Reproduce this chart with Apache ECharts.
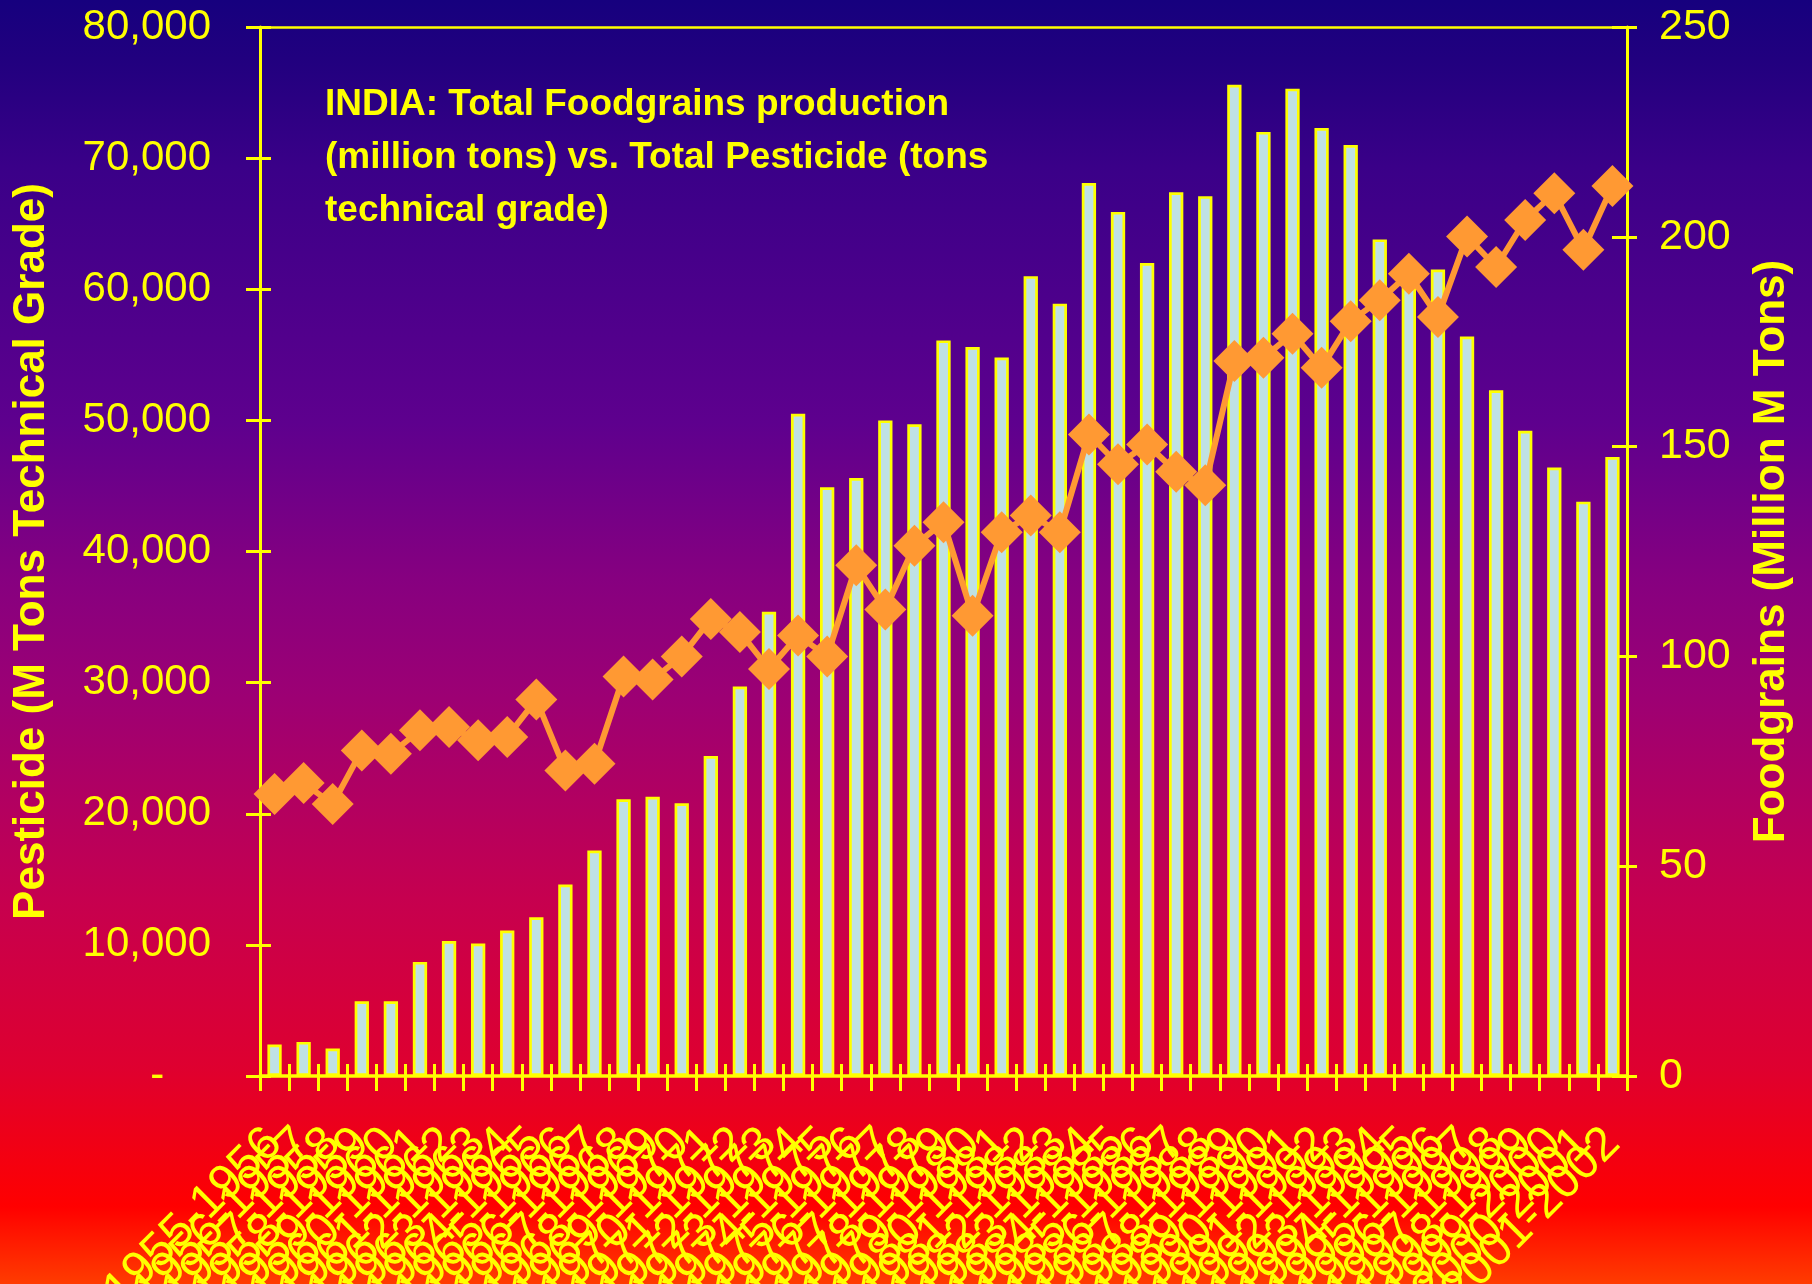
<!DOCTYPE html>
<html>
<head>
<meta charset="utf-8">
<script src="https://cdn.jsdelivr.net/npm/echarts@6/dist/echarts.min.js"></script>
<style>
html,body{margin:0;padding:0;width:1812px;height:1284px;overflow:hidden;}
#chart{width:1812px;height:1284px;}
</style>
</head>
<body>
<div id="chart"></div>
<script>
const categories = [
  '1955-1956','1956-1957','1957-1958','1958-1959','1959-1960','1960-1961','1961-1962','1962-1963',
  '1963-1964','1964-1965','1965-1966','1966-1967','1967-1968','1968-1969','1969-1970','1970-1971',
  '1971-1972','1972-1973','1973-1974','1974-1975','1975-1976','1976-1977','1977-1978','1978-1979',
  '1979-1980','1980-1981','1981-1982','1982-1983','1983-1984','1984-1985','1985-1986','1986-1987',
  '1987-1988','1988-1989','1989-1990','1990-1991','1991-1992','1992-1993','1993-1994','1994-1995',
  '1995-1996','1996-1997','1997-1998','1998-1999','1999-2000','2000-2001','2001-2002'
];
// Total pesticide consumption (tons technical grade) - left axis, bars
const pesticide = [
  2400, 2600, 2100, 5700, 5700, 8700, 10300, 10100, 11100, 12100,
  14600, 17200, 21100, 21300, 20800, 24400, 29700, 35400, 50500, 44900,
  45600, 50000, 49700, 56100, 55600, 54800, 61000, 58900, 68100, 65900,
  62000, 67400, 67100, 75600, 72000, 75300, 72300, 71000, 63800, 61500,
  61500, 56400, 52300, 49200, 46400, 43800, 47200
];
// Total foodgrains production (million tons) - right axis, line
const foodgrains = [
  67.2, 69.8, 64.8, 77.6, 76.8, 82.4, 83.2, 80.0, 80.8, 89.7,
  72.8, 74.4, 95.2, 94.5, 100.0, 108.9, 105.8, 97.0, 105.0, 100.0,
  121.7, 111.2, 126.4, 132.0, 109.7, 129.6, 133.6, 129.6, 152.9, 145.8,
  150.5, 144.0, 140.8, 170.4, 171.2, 176.9, 168.8, 179.9, 184.9, 191.2,
  180.9, 200.1, 192.8, 204.0, 210.4, 196.9, 212.1
];
const leftAxisRange = { min: 0, max: 80000, interval: 10000 };
const rightAxisRange = { min: 0, max: 250, interval: 50 };
const titleLines = [
  'INDIA: Total Foodgrains production',
  '(million tons) vs. Total Pesticide (tons',
  'technical grade)'
];
const leftAxisName = 'Pesticide (M Tons Technical Grade)';
const rightAxisName = 'Foodgrains (Million M Tons)';

const YEL = '#ffff00';
const FONT = "'Liberation Sans', Arial, sans-serif";

const chart = echarts.init(document.getElementById('chart'), null, { renderer: 'canvas' });

const option = {
  animation: false,
  backgroundColor: {
    type: 'linear', x: 0, y: 0, x2: 0, y2: 1,
    colorStops: [
      { offset: 0.00, color: '#16007e' },
      { offset: 0.05, color: '#22007f' },
      { offset: 0.13, color: '#3a0088' },
      { offset: 0.33, color: '#5e008e' },
      { offset: 0.45, color: '#860080' },
      { offset: 0.54, color: '#9c0074' },
      { offset: 0.70, color: '#c6004f' },
      { offset: 0.83, color: '#de0030' },
      { offset: 0.94, color: '#ff0000' },
      { offset: 1.00, color: '#ff3c00' }
    ]
  },
  title: {
    text: titleLines.join('\n'),
    left: 320,
    top: 73,
    textStyle: { color: YEL, fontSize: 37, fontWeight: 'bold', fontFamily: FONT, lineHeight: 53 }
  },
  grid: { left: 260, right: 185, top: 27, bottom: 208, containLabel: false, outerBoundsMode: 'none' },
  xAxis: [
    {
      type: 'category', position: 'bottom', data: categories, boundaryGap: true,
      axisLine: { show: true, onZero: false, lineStyle: { color: YEL, width: 3.5 } },
      axisTick: { show: true, interval: 0, length: 15, lineStyle: { color: YEL, width: 3 } },
      axisLabel: { interval: 0, rotate: 45, color: YEL, fontSize: 48, fontFamily: FONT, margin: 60 },
      splitLine: { show: false }
    },
    {
      type: 'category', position: 'bottom', data: categories, boundaryGap: true,
      axisLine: { show: false, onZero: false },
      axisTick: { show: true, inside: true, interval: 0, length: 12, lineStyle: { color: YEL, width: 3 } },
      axisLabel: { show: false },
      splitLine: { show: false }
    },
    {
      type: 'category', position: 'top', data: categories, boundaryGap: true,
      axisLine: { show: true, onZero: false, lineStyle: { color: YEL, width: 2.5 } },
      axisTick: { show: false },
      axisLabel: { show: false },
      splitLine: { show: false }
    }
  ],
  yAxis: [
    {
      type: 'value', position: 'left',
      min: leftAxisRange.min, max: leftAxisRange.max, interval: leftAxisRange.interval,
      name: leftAxisName, nameLocation: 'middle', nameGap: 206,
      nameTextStyle: { color: YEL, fontSize: 44, fontWeight: 'bold', fontFamily: FONT },
      axisLine: { show: true, onZero: false, lineStyle: { color: YEL, width: 3 } },
      axisTick: { show: true, length: 14, lineStyle: { color: YEL, width: 3 } },
      axisLabel: {
        color: YEL, fontSize: 42, fontFamily: FONT, margin: 49,
        formatter: v => v === 0 ? '-    ' : v.toLocaleString('en-US')
      },
      splitLine: { show: false }
    },
    {
      type: 'value', position: 'right',
      min: rightAxisRange.min, max: rightAxisRange.max, interval: rightAxisRange.interval,
      name: rightAxisName, nameLocation: 'middle', nameGap: 123,
      nameTextStyle: { color: YEL, fontSize: 44, fontWeight: 'bold', fontFamily: FONT },
      axisLine: { show: true, onZero: false, lineStyle: { color: YEL, width: 3 } },
      axisTick: { show: true, length: 10, lineStyle: { color: YEL, width: 3 } },
      axisLabel: { color: YEL, fontSize: 43, fontFamily: FONT, margin: 32 },
      splitLine: { show: false }
    },
    {
      type: 'value', position: 'left',
      min: leftAxisRange.min, max: leftAxisRange.max, interval: leftAxisRange.interval,
      axisLine: { show: false, onZero: false },
      axisTick: { show: true, inside: true, length: 11, lineStyle: { color: YEL, width: 3 } },
      axisLabel: { show: false },
      splitLine: { show: false }
    },
    {
      type: 'value', position: 'right',
      min: rightAxisRange.min, max: rightAxisRange.max, interval: rightAxisRange.interval,
      axisLine: { show: false, onZero: false },
      axisTick: { show: true, inside: true, length: 15, lineStyle: { color: YEL, width: 3 } },
      axisLabel: { show: false },
      splitLine: { show: false }
    }
  ],
  series: [
    {
      name: 'Pesticide',
      type: 'bar',
      xAxisIndex: 0, yAxisIndex: 0,
      data: pesticide,
      barWidth: 14.3,
      itemStyle: { color: '#bfe1e4', borderColor: YEL, borderWidth: 2.7 },
      z: 2
    },
    {
      name: 'Foodgrains',
      type: 'line',
      xAxisIndex: 0, yAxisIndex: 1,
      data: foodgrains,
      symbol: 'diamond',
      symbolSize: 42,
      clip: false,
      lineStyle: { color: '#ff9933', width: 6 },
      itemStyle: { color: '#ff9933' },
      z: 3
    }
  ]
};
chart.setOption(option);
</script>
</body>
</html>
